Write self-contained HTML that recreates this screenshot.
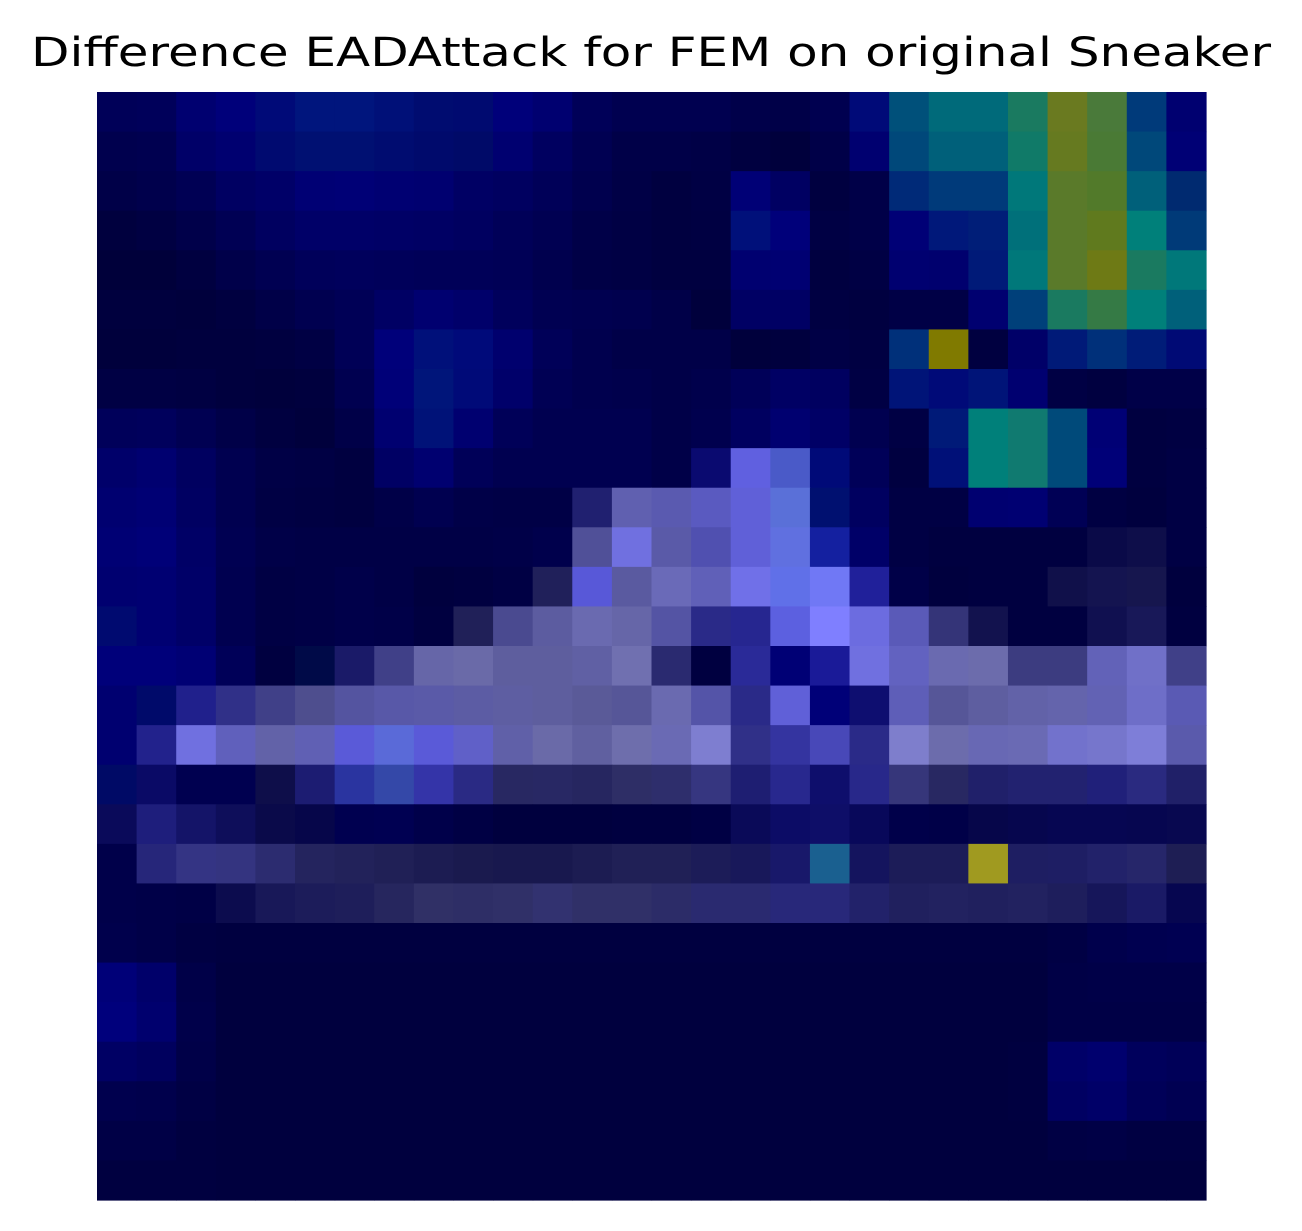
<!DOCTYPE html>
<html><head><meta charset="utf-8"><style>
html,body{margin:0;padding:0;background:#fff;width:1302px;height:1231px;overflow:hidden}
</style></head><body>
<svg id="chart" width="1302" height="1231" viewBox="0 0 1302 1231" xmlns="http://www.w3.org/2000/svg">
<text x="651" y="66" text-anchor="middle" font-family="DejaVu Sans, Liberation Sans, sans-serif" font-size="40" textLength="1240" lengthAdjust="spacingAndGlyphs" fill="#000">Difference EADAttack for FEM on original Sneaker</text>
<g id="cells"></g>
</svg>
<script>
const rowsL = [
"#000058 #00005a #000070 #00007a #000a78 #00157d #00157d #001078 #000c70 #000a70 #00007a #000070 #000058 #000050",
"#00004e #000050 #000068 #000070 #000a70 #001072 #001072 #000c70 #000a6c #000a68 #000070 #000060 #000052 #000048",
"#000048 #00004c #000054 #000062 #000068 #000074 #000076 #000072 #000070 #000064 #000060 #000058 #00004e #000046",
"#00003e #000042 #00004a #000054 #000060 #000068 #000068 #000066 #000064 #000060 #000058 #000052 #000048 #000044",
"#00003a #00003a #000040 #00004a #000052 #00005a #00005c #00005a #000058 #000058 #000056 #00004e #000046 #000044",
"#00003e #00003e #00003c #000040 #000048 #000050 #000056 #000064 #000070 #00006a #00005c #000052 #000050 #00004e",
"#00003c #00003c #00003e #00003e #000040 #000044 #000056 #00007a #00107a #000a7a #00006e #000058 #00004e #000048",
"#000044 #000044 #000042 #00003e #00003c #00003e #000050 #000078 #00157a #000a78 #00006a #000054 #00004e #00004c",
"#00005a #00005c #000052 #000048 #000040 #00003c #000048 #000070 #001278 #000070 #000058 #000050 #000050 #000050",
"#00006a #000070 #000060 #000050 #000046 #000044 #000040 #000064 #000070 #000058 #000050 #000050 #000050 #000050",
"#000070 #000074 #000062 #000050 #000044 #000042 #000040 #000048 #000050 #000048 #000046 #000046 #202070 #6060b0",
"#000074 #000078 #000066 #000052 #000048 #000046 #000046 #000046 #000046 #000046 #000048 #00004c #505098 #7070e0",
"#000070 #000072 #000068 #000050 #000044 #000046 #00004a #000046 #00003e #000040 #000044 #20205a #5858d8 #5a5aa0",
"#000a70 #000072 #000068 #000050 #000044 #000046 #00004a #000048 #000040 #202058 #4a4a90 #5c5ca0 #6a6ab0 #6666a8",
"#00007a #00007a #000074 #000058 #000040 #000a48 #1a1a68 #404088 #6666a8 #6a6aa8 #5e5e9e #5e5e9e #6060a4 #7070b0",
"#000070 #000a6a #20208c #303088 #404088 #4e4e8e #5454a0 #5858a8 #5a5aa8 #5c5ca4 #5e5ea2 #5e5e9e #5a5a98 #565698",
"#000070 #22228c #7070e0 #6060bc #6262a8 #6060b4 #5a5ad8 #5a6ad8 #5a5ad8 #6060c8 #6060a8 #6a6aa8 #6060a0 #6e6eac",
"#000a66 #0a0a66 #000050 #000050 #0e0e4a #1c1c72 #2a34a0 #3448a8 #3434a8 #2a2a84 #282862 #282864 #262660 #2e2e66",
"#0a0a5a #1e1e7c #141468 #0e0e5a #0a0a4a #06064a #000050 #000052 #00004a #000044 #00003e #00003e #00003e #000040",
"#00004a #26267a #343484 #343480 #2c2c70 #24245e #22225a #202056 #1c1c52 #1a1a4e #18184e #18184e #1c1c52 #202056",
"#00004a #000048 #000046 #0c0c4e #181858 #1c1c5a #1e1e5a #26265e #303066 #2e2e66 #303068 #323270 #303068 #303068",
"#00004c #000048 #000042 #000040 #000040 #000040 #000040 #000040 #000040 #000040 #000040 #000040 #000040 #000040",
"#000078 #00006a #000048 #00003e #00003e #00003e #00003e #00003e #00003e #00003e #00003e #00003e #00003e #00003e",
"#00007c #00006e #00004a #00003e #00003e #00003e #00003e #00003e #00003e #00003e #00003e #00003e #00003e #00003e",
"#000064 #00005e #000048 #00003e #00003e #00003e #00003e #00003e #00003e #00003e #00003e #00003e #00003e #00003e",
"#00004e #00004c #000044 #00003e #00003e #00003e #00003e #00003e #00003e #00003e #00003e #00003e #00003e #00003e",
"#000046 #000046 #000040 #00003e #00003e #00003e #00003e #00003e #00003e #00003e #00003e #00003e #00003e #00003e",
"#000040 #000040 #000040 #00003e #00003e #00003e #00003e #00003e #00003e #00003e #00003e #00003e #00003e #00003e"
];
const rowsR = [
"#000050 #000050 #00004a #000048 #000050 #000a78 #00507a #006a7a #006a7a #1a7a60 #6a7a20 #4a7a3a #003a7a #000070",
"#000048 #000046 #000040 #00003c #000048 #000070 #00487a #00607a #00607a #107a68 #667a20 #4a7a35 #00487a #000075",
"#000040 #000044 #000076 #000062 #000040 #000048 #002a78 #003a7a #003a7a #00787a #5a7a2a #527a2a #00607a #002a70",
"#000040 #000042 #00107a #00007a #000044 #000048 #000076 #00187a #001e78 #00707a #5a7a2a #607a1e #00807a #003a78",
"#000040 #000040 #000070 #000072 #000040 #000044 #000070 #00006e #001a78 #00787a #5a7a2a #6e7a15 #1a7a60 #00787a",
"#000048 #00003c #000064 #000064 #000042 #000040 #000046 #000046 #000070 #00407a #1a7a60 #357a45 #00807a #00607a",
"#000048 #000048 #00003c #00003e #000046 #000042 #00307a #807a00 #000040 #000068 #001a78 #00307a #001c78 #000a75",
"#000048 #00004c #000058 #000064 #000060 #000044 #001478 #000a78 #001478 #000070 #000044 #000040 #000048 #000048",
"#000048 #00004e #000060 #000070 #000066 #000050 #000044 #001a78 #00807a #107a70 #004a7a #000075 #000040 #000042",
"#000048 #0a0a70 #6060e0 #4a5ac8 #000a78 #000058 #000040 #001078 #00807a #107a70 #004a7a #000078 #000040 #000044",
"#5a5ab0 #5a5ac0 #6060d8 #5a70d8 #001070 #000060 #000044 #000044 #000070 #000072 #000055 #000042 #00003e #000044",
"#5a5aa8 #5050b0 #6060d8 #6070e0 #1420a0 #000068 #000044 #000040 #000040 #000040 #000040 #0a0a48 #0e0e4a #000044",
"#6a6ab8 #6060b8 #7070e8 #6070e8 #7078f5 #20209a #000048 #00003e #000040 #000040 #10104a #141450 #16164e #00003e",
"#5454a4 #2a2a88 #262690 #5c60e0 #7f7fff #6c6ce0 #5a5ab8 #343478 #12124e #000040 #000040 #101050 #181858 #000040",
"#2a2a70 #000040 #2a2a98 #000075 #1a1a98 #7070e0 #6262c0 #6a6ab0 #6c6cac #3c3c80 #3c3c80 #6262b8 #7070c8 #404088",
"#6a6ab0 #5454a8 #2a2a88 #6060d8 #000078 #0e0e70 #5e5eb8 #565698 #5e5ea0 #6262a8 #6464ac #6262b4 #6e6ec8 #5a5ab4",
"#6a6ab4 #7e7ed0 #303088 #3434a0 #4848b8 #2a2a88 #7e7ecc #6c6cac #6868b4 #6a6ab4 #7272cc #7676cc #7e7ed8 #5a5aac",
"#2e2e6c #363680 #1e1e72 #28288e #0e0e6c #28288a #36367a #282862 #20206a #222270 #222270 #20207a #2a2a80 #202068",
"#000040 #000044 #0a0a58 #0c0c66 #0e0e68 #08085a #00004a #000048 #06064a #06064e #060652 #060652 #060650 #080850",
"#202056 #1c1c58 #18185a #18186a #1a6090 #14145e #1c1c58 #1c1c58 #a09a20 #1e1e62 #1e1e64 #22226a #26266a #1e1e54",
"#2c2c68 #2a2a70 #2a2a70 #28287a #28287a #22226a #20205e #222260 #20205e #222260 #1e1e5c #16165a #1a1a66 #060650",
"#000040 #000040 #000040 #000040 #000040 #000040 #000040 #000040 #000040 #000040 #000044 #00004c #000050 #000052",
"#00003e #00003e #00003e #00003e #00003e #00003e #00003e #00003e #00003e #00003e #000046 #000048 #000048 #000048",
"#00003e #00003e #00003e #00003e #00003e #00003e #00003e #00003e #00003e #00003e #000046 #000046 #000046 #000046",
"#00003e #00003e #00003e #00003e #00003e #00003e #00003e #00003e #00003e #000040 #000068 #00006e #00005c #000058",
"#00003e #00003e #00003e #00003e #00003e #00003e #00003e #00003e #00003e #000040 #000062 #000068 #000058 #000052",
"#00003e #00003e #00003e #00003e #00003e #00003e #00003e #00003e #00003e #00003e #000044 #000046 #000042 #000042",
"#00003e #00003e #00003e #00003e #00003e #00003e #00003e #00003e #00003e #00003e #00003e #00003e #00003e #00003e"
];
const gridRows = rowsL.map((r, i) => (r + " " + rowsR[i]).split(" "));
const x0 = 97, y0 = 92, W = 1109, H = 1108;
const nR = gridRows.length, nC = gridRows[0].length;
const xs = c => x0 + c * W / nC;
const ys = r => y0 + r * H / nR;
const g = document.getElementById('cells');
const NS = 'http://www.w3.org/2000/svg';
gridRows.forEach((row, r) => row.forEach((col, c) => {
  const el = document.createElementNS(NS, 'rect');
  
  
  el.setAttribute('x', xs(c));
  el.setAttribute('y', ys(r));
  el.setAttribute('width', W / nC + 0.6);
  el.setAttribute('height', H / nR + 0.6);
  el.setAttribute('fill', col);
  g.appendChild(el);
}));
</script>
</body></html>
